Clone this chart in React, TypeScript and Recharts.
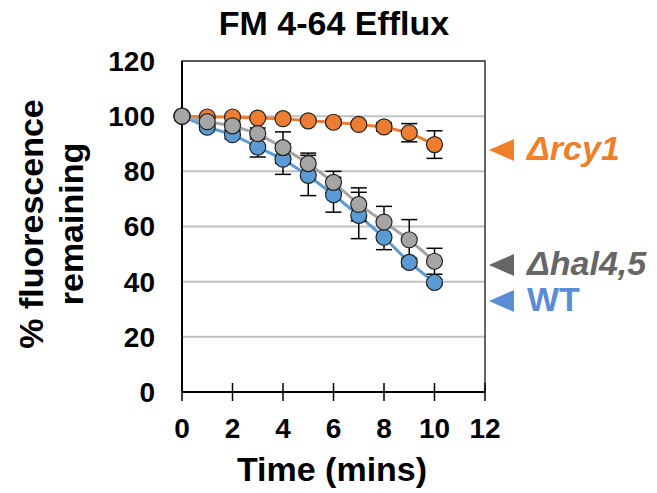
import { LineChart, Line, XAxis, YAxis, CartesianGrid, ReferenceArea, ErrorBar } from 'recharts';

const TIME = [0, 1, 2, 3, 4, 5, 6, 7, 8, 9, 10];
const WT = [100, 96, 93.3, 88.8, 84.4, 78.5, 71.5, 64, 56.1, 47, 39.7];
const WT_ERR = [0, 1, 1.5, 3.6, 5.5, 7.3, 6.3, 8.4, 4.5, 1.5, 1];
const HAL = [100, 98, 96.5, 93.7, 88.6, 82.8, 76, 68, 61.6, 55.2, 47.4];
const HAL_ERR = [0, 1, 1.5, 2, 5.7, 3.8, 4, 6, 5.7, 7.3, 4.7];
const RCY = [100, 99.7, 99.7, 99.3, 99.1, 98.3, 97.8, 97, 96.1, 94, 89.7];
const RCY_ERR = [0, 0.5, 0.5, 0.5, 0.5, 0.8, 1, 1, 1.5, 3.3, 5];

const X_TICKS = [0, 2, 4, 6, 8, 10, 12];
const Y_TICKS = [0, 20, 40, 60, 80, 100, 120];

// drawing order: orange, blue, then grey on top
const SERIES = [
  { key: 'rcy', line: '#ED7D31' },
  { key: 'wt', line: '#5B9BD5' },
  { key: 'hal', line: '#A5A5A5' },
];

const LEGEND = [
  { label: 'Δrcy1', color: '#F07F2A', y: 160, italic: true },
  { label: 'Δhal4,5', color: '#666666', y: 275, italic: true },
  { label: 'WT', color: '#5B8DD6', y: 311, italic: false },
];

const data = TIME.map((t, i) => ({
  t,
  wt: WT[i], wtErr: WT_ERR[i],
  hal: HAL[i], halErr: HAL_ERR[i],
  rcy: RCY[i], rcyErr: RCY_ERR[i],
}));

const FONT = '"Liberation Sans", Arial, sans-serif';
const MARGIN = 28;

// x ticks cross the axis line, like the original Excel plot
const XTick = (props: any) => {
  const { x, y, payload } = props;
  const axisY = y - MARGIN;
  return (
    <g>
      <line x1={x} x2={x} y1={axisY - 9} y2={axisY + 9} stroke="#000" strokeWidth={1.5} />
      <text x={x} y={axisY + 46} textAnchor="middle" fontSize={28} fontWeight="bold" fill="#000" fontFamily={FONT}>
        {payload.value}
      </text>
    </g>
  );
};

export default function App() {
  return (
    <div style={{ position: 'absolute', left: 0, top: 0, width: 657, height: 493, background: '#fff', fontFamily: FONT }}>
      <LineChart width={657} height={493} data={data} margin={{ top: 61, right: 172, left: 122, bottom: 41 }}>
        <CartesianGrid horizontal vertical={false} stroke="#C0C0C0" strokeWidth={2} />
        <ReferenceArea x1={0} x2={12} y1={0} y2={120} fill="none" stroke="#333" strokeWidth={1.5} />
        <XAxis
          dataKey="t" type="number" domain={[0, 12]} ticks={X_TICKS} height={60}
          axisLine={{ stroke: '#000', strokeWidth: 2 }} tickLine={false} tickSize={0} tickMargin={MARGIN}
          tick={<XTick />} interval={0}
        />
        <YAxis
          type="number" domain={[0, 120]} ticks={Y_TICKS} width={60} interval={0}
          axisLine={{ stroke: '#000', strokeWidth: 2 }} tickLine={false} tickSize={0} tickMargin={27}
          tick={{ fill: '#000', fontSize: 28, fontWeight: 'bold', fontFamily: FONT }}
        />
        {/* lines + error bars first, markers on top of everything */}
        {SERIES.map(s => (
          <Line key={s.key} dataKey={s.key} stroke={s.line} strokeWidth={3} dot={false} activeDot={false} isAnimationActive={false}>
            <ErrorBar dataKey={s.key + 'Err'} direction="y" width={8} stroke="#000" strokeWidth={1.5} />
          </Line>
        ))}
        {SERIES.map(s => (
          <Line
            key={s.key + '-dots'} dataKey={s.key} stroke="none" legendType="none" activeDot={false}
            dot={{ r: 8, fill: s.line, stroke: '#222', strokeWidth: 1.2 }} isAnimationActive={false}
          />
        ))}
      </LineChart>

      <svg width={657} height={493} style={{ position: 'absolute', left: 0, top: 0, pointerEvents: 'none' }} fontFamily={FONT}>
        <text x={334} y={35} textAnchor="middle" fontSize={34} fontWeight="bold" fill="#000">FM 4-64 Efflux</text>
        <text x={332} y={481} textAnchor="middle" fontSize={34} fontWeight="bold" fill="#000">Time (mins)</text>
        <text x={43} y={224} transform="rotate(-90 43 224)" textAnchor="middle" fontSize={34} fontWeight="bold" fill="#000">% fluorescence</text>
        <text x={83} y={224} transform="rotate(-90 83 224)" textAnchor="middle" fontSize={34} fontWeight="bold" fill="#000">remaining</text>
        {LEGEND.map(l => (
          <g key={l.label}>
            <polygon points={`489,${l.y - 10} 514,${l.y - 21} 514,${l.y + 1}`} fill={l.color} />
            <text x={527} y={l.y} fontSize={34} fontWeight="bold" fontStyle={l.italic ? 'italic' : 'normal'} fill={l.color}>{l.label}</text>
          </g>
        ))}
      </svg>
    </div>
  );
}
